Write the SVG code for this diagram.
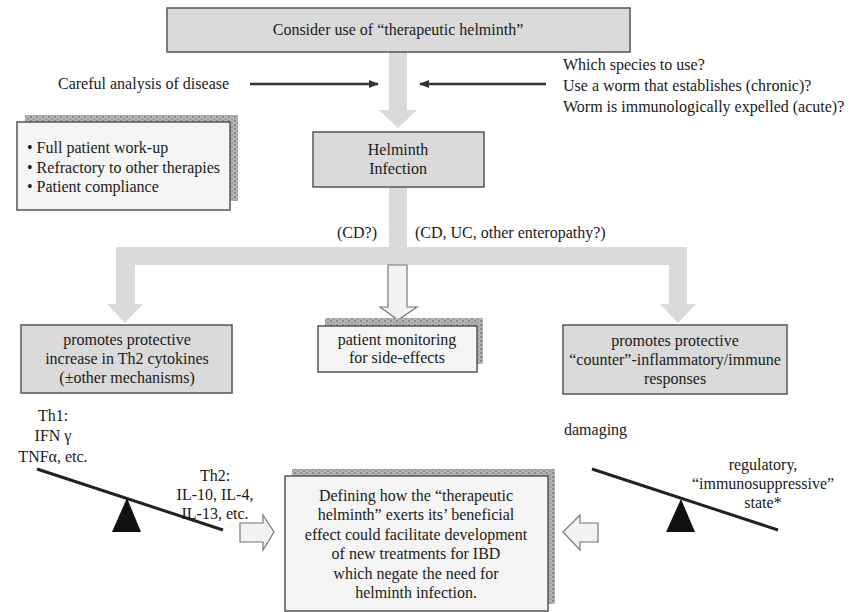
<svg xmlns="http://www.w3.org/2000/svg" width="860" height="612" viewBox="0 0 860 612">
<defs>
<pattern id="tex" width="6" height="4" patternUnits="userSpaceOnUse">
<rect width="6" height="4" fill="#b4b4b4"/>
<rect x="0" y="0" width="2" height="2" fill="#8a8a8a"/>
<rect x="3" y="2" width="2" height="2" fill="#9a9a9a"/>
</pattern>
<marker id="ah" viewBox="0 0 10 10" refX="9" refY="5" markerWidth="4" markerHeight="4" orient="auto">
<path d="M0,1 L10,5 L0,9 Z" fill="#333"/>
</marker>
<style>
.c{text-anchor:middle}
.gbox{fill:#dadada;stroke:#555;stroke-width:1.5}
.lbox{fill:#f4f5f4;stroke:#555;stroke-width:1.5}
.shadow{fill:url(#tex)}
.flow{fill:#dadada;stroke:none}
.hollow{fill:#f2f3f2;stroke:#777;stroke-width:1.2}
.beam{stroke:#222;stroke-width:3;fill:none}
.fulcrum{fill:#111}
</style>
</defs>

<g id="connectors">
<polygon class="flow" points="389,52 407,52 407,110 417,110 398,128 379,110 389,110"/>
<polygon class="flow" points="389,187 407,187 407,247 687,247 687,304 696,304 678,323 660,304 669,304 669,265 135,265 135,304 143,304 125,323 107,304 116,304 116,247 389,247"/>
<polygon class="hollow" points="388,265 407,265 407,307 417,307 398,320 380,307 388,307"/>
<line x1="250" y1="84" x2="378" y2="84" stroke="#333" stroke-width="2.5" marker-end="url(#ah)"/>
<line x1="546" y1="84" x2="420" y2="84" stroke="#333" stroke-width="2.5" marker-end="url(#ah)"/>
<polygon class="hollow" points="240,523 263,523 263,515 274,532 263,550 263,542 240,542"/>
<polygon class="hollow" points="598,523 580,523 580,515 563,532 580,550 580,542 598,542"/>
</g>

<g font-family="'Liberation Serif', 'Times New Roman', 'DejaVu Serif', serif" font-size="16" fill="#1a1a1a">
<g id="consider">
<rect class="gbox" x="167" y="8" width="463" height="44"/>
<text class="c" x="398" y="35">Consider use of “therapeutic helminth”</text>
</g>

<g id="careful">
<text x="58" y="89">Careful analysis of disease</text>
</g>

<g id="questions">
<text x="563" y="70">Which species to use?</text>
<text x="563" y="91">Use a worm that establishes (chronic)?</text>
<text x="563" y="112">Worm is immunologically expelled (acute)?</text>
</g>

<g id="criteria">
<rect class="shadow" x="25" y="115" width="213" height="86"/>
<rect class="lbox" x="17" y="122" width="213" height="88"/>
<text x="27" y="153">• Full patient work-up</text>
<text x="27" y="173">• Refractory to other therapies</text>
<text x="27" y="192">• Patient compliance</text>
</g>

<g id="helminth">
<rect class="gbox" x="313" y="132" width="171" height="55"/>
<text class="c" x="398" y="155">Helminth</text>
<text class="c" x="398" y="174">Infection</text>
</g>

<g id="labels">
<text x="337" y="238">(CD?)</text>
<text x="415" y="238">(CD, UC, other enteropathy?)</text>
</g>

<g id="th2box">
<rect class="gbox" x="21" y="325" width="211" height="68"/>
<text class="c" x="127" y="345">promotes protective</text>
<text class="c" x="127" y="364">increase in Th2 cytokines</text>
<text class="c" x="127" y="383">(±other mechanisms)</text>
</g>

<g id="monitoring">
<rect class="shadow" x="325" y="318" width="158" height="46"/>
<rect class="lbox" x="318" y="326" width="159" height="46"/>
<text class="c" x="397" y="345">patient monitoring</text>
<text class="c" x="397" y="363">for side-effects</text>
</g>

<g id="counterbox">
<rect class="gbox" x="563" y="325" width="224" height="69"/>
<text class="c" x="675" y="346">promotes protective</text>
<text class="c" x="675" y="365">“counter”-inflammatory/immune</text>
<text class="c" x="675" y="384">responses</text>
</g>

<g id="left-seesaw">
<text class="c" x="53" y="421">Th1:</text>
<text class="c" x="53" y="441">IFN γ</text>
<text class="c" x="53" y="462">TNFα, etc.</text>
<line class="beam" x1="37" y1="469" x2="223" y2="530"/>
<polygon class="fulcrum" points="127,498 141,532 112,532"/>
<text class="c" x="215" y="481">Th2:</text>
<text class="c" x="215" y="500">IL-10, IL-4,</text>
<text class="c" x="215" y="519">IL-13, etc.</text>
</g>

<g id="defining">
<rect class="shadow" x="292" y="469" width="263" height="135"/>
<rect class="lbox" x="285" y="476" width="263" height="135"/>
<text class="c" x="416" y="501">Defining how the “therapeutic</text>
<text class="c" x="416" y="520">helminth” exerts its’ beneficial</text>
<text class="c" x="416" y="540">effect could facilitate development</text>
<text class="c" x="416" y="559">of new treatments for IBD</text>
<text class="c" x="416" y="579">which negate the need for</text>
<text class="c" x="416" y="598">helminth infection.</text>
</g>

<g id="right-seesaw">
<text x="564" y="435">damaging</text>
<line class="beam" x1="592" y1="469" x2="778" y2="530"/>
<polygon class="fulcrum" points="681,499 695,532 666,532"/>
<text class="c" x="763" y="470">regulatory,</text>
<text class="c" x="763" y="489">“immunosuppressive”</text>
<text class="c" x="763" y="508">state*</text>
</g>
</g>
</svg>
